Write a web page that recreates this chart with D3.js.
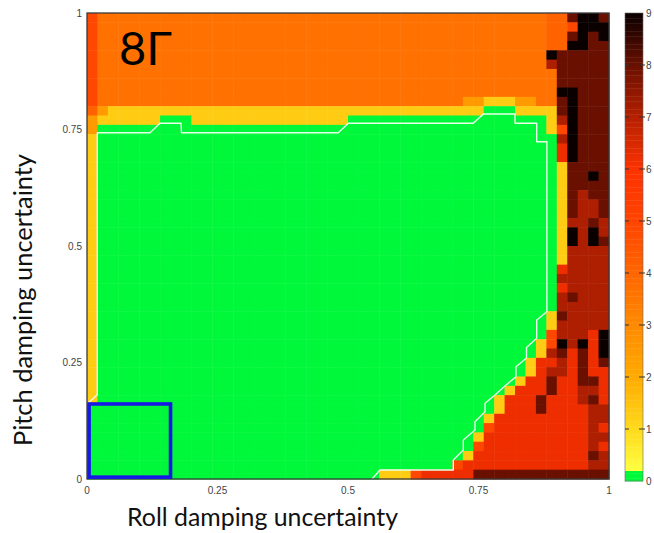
<!DOCTYPE html>
<html><head><meta charset="utf-8">
<script src="https://cdn.jsdelivr.net/npm/d3@7"></script>
<style>html,body{margin:0;padding:0;background:#fff;} svg{display:block}</style>
</head><body>
<svg id="chart" width="654" height="533"></svg>
<script>
// ---------------- DATA ----------------
const nCols = 50, nRows = 50;
// level codes used in the grid rows and the value each one stands for
const levelCodes  = ["g", "y", "a", "o", "p", "q", "r", "d", "m", "k"];
const levelValues = [0,   1.3, 2.5, 3.7, 4.1, 4.9, 6.2, 7.1, 8.0, 9.0];
// grid rows, top (pitch = 1) to bottom (pitch = 0), run-length coded: code + count
const gridRows = [
  "q o43 p2 m k2 m",
  "q o43 p2 q k3",
  "q o43 p2 m k m k",
  "q o43 p2 k2 m2",
  "q o43 k m5",
  "q o43 d m5",
  "q o44 m5",
  "q o44 m5",
  "q o44 k2 m3",
  "q o35 a2 y3 a2 o2 m k m3",
  "p a y36 g3 y4 m k m3",
  "a y6 g3 y15 g19 y d k m3",
  "a g43 y q k m3",
  "y g44 d k m3",
  "y g44 r k m3",
  "y g44 r k m3",
  "y g44 y m4",
  "y g44 y m2 k m",
  "y g44 y m4",
  "y g44 y m d m2",
  "y g44 y m d2 m",
  "y g44 y m d2 m",
  "y g44 y d2 m d",
  "y g44 y k d k d",
  "y g44 y k d k m",
  "y g44 y d4",
  "y g44 y d4",
  "y g44 r d4",
  "y g44 d5",
  "y g44 r d4",
  "y g44 d m d3",
  "y g44 d5",
  "y g43 y m d4",
  "y g43 y d5",
  "y g43 q d3 r k",
  "y g42 y q k d k r k",
  "y g42 y d m r m r k",
  "y g41 y r2 d r m r m",
  "y g41 y r d d r m r2",
  "y g40 y r2 m r2 m2 r",
  "y g39 y r3 m r2 d2 r",
  "y g38 y r3 m r r2 d m r",
  "g39 y r3 m r r3 d2",
  "g38 y r9 d2",
  "g38 q r9 d r",
  "g37 y r10 d2",
  "g37 q r10 d r",
  "g36 y r11 m d",
  "g35 q r12 d2",
  "g28 y3 q r5 m13"
];
const xTicks = [0, 0.25, 0.5, 0.75, 1];
const xTickLabels = ["0", "0.25", "0.5", "0.75", "1"];
const yTicks = [0, 0.25, 0.5, 0.75, 1];
const yTickLabels = ["0", "0.25", "0.5", "0.75", "1"];
const cbarTicks = [0, 1, 2, 3, 4, 5, 6, 7, 8, 9];
const cbarMax = 9;
const greenLimit = 0.2;
const cmapStops  = [0.2, 1, 2, 3, 4, 5, 6, 7, 8, 9];
const cmapColors = ["#ffff40", "#ffda1c", "#ffab00", "#ff8a00", "#ff6600", "#ff4400", "#fd3200", "#b52000", "#6a1000", "#0a0000"];
const greenColor = "#00f83a";
// white boundary curve (roll, pitch)
const boundaryX = [0, 0.0197, 0.0197, 0.1207, 0.1398, 0.1801, 0.181, 0.4814, 0.5006, 0.740, 0.7592, 0.8199, 0.8199, 0.8615, 0.8615, 0.881, 0.881, 0.8615, 0.8615, 0.842, 0.842, 0.8218, 0.8218, 0.8017, 0.7816, 0.7625, 0.7625, 0.7433, 0.7433, 0.7209, 0.7209, 0.7017, 0.7017, 0.5613, 0.546];
const boundaryY = [0.161, 0.181, 0.743, 0.743, 0.7633, 0.7633, 0.743, 0.743, 0.7633, 0.7633, 0.7833, 0.7833, 0.7633, 0.7633, 0.7238, 0.7238, 0.359, 0.3412, 0.3019, 0.2822, 0.2597, 0.241, 0.2195, 0.2006, 0.1803, 0.1624, 0.1444, 0.123, 0.1052, 0.0837, 0.0622, 0.0408, 0.0193, 0.0193, 0];
// blue box
const boxX = [0.004, 0.16];
const boxY = [0.004, 0.161];
const annotationText = "8Γ";
const xLabel = "Roll damping uncertainty";
const yLabel = "Pitch damping uncertainty";

// ---------------- CHART ----------------
const svg = d3.select("#chart");
const plot = {left: 87, right: 609, top: 13, bottom: 479};
const x = d3.scaleLinear().domain([0, 1]).range([plot.left, plot.right]);
const y = d3.scaleLinear().domain([0, 1]).range([plot.bottom, plot.top]);

const cmap = d3.scaleLinear().domain(cmapStops).range(cmapColors).clamp(true);
function colorOf(v) { return v < greenLimit ? greenColor : cmap(v); }

const codeValue = new Map(levelCodes.map((c, i) => [c, levelValues[i]]));
function decodeRow(s) {
  const out = [];
  s.split(" ").forEach(tok => {
    const code = tok[0];
    const n = tok.length > 1 ? +tok.slice(1) : 1;
    for (let i = 0; i < n; i++) out.push(codeValue.get(code));
  });
  return out;
}
const cells = [];
gridRows.forEach((s, r) => {
  decodeRow(s).forEach((v, c) => {
    cells.push({
      x0: c / nCols, x1: (c + 1) / nCols,
      y1: 1 - r / nRows, y0: 1 - (r + 1) / nRows, v
    });
  });
});

svg.append("g").selectAll("rect").data(cells).join("rect")
  .attr("x", d => x(d.x0))
  .attr("y", d => y(d.y1))
  .attr("width", d => x(d.x1) - x(d.x0) + 0.5)
  .attr("height", d => y(d.y0) - y(d.y1) + 0.5)
  .attr("fill", d => colorOf(d.v));

// white boundary line
const bpts = boundaryX.map((bx, i) => [bx, boundaryY[i]]);
svg.append("path")
  .attr("d", d3.line().x(d => x(d[0])).y(d => y(d[1]))(bpts))
  .attr("fill", "none")
  .attr("stroke", "#eaffea")
  .attr("stroke-width", 1.4)
  .attr("stroke-linejoin", "round");

// frame
svg.append("rect")
  .attr("x", x(0)).attr("y", y(1))
  .attr("width", x(1) - x(0)).attr("height", y(0) - y(1))
  .attr("fill", "none").attr("stroke", "#3a3a3a").attr("stroke-width", 1.3);

// blue box
svg.append("rect")
  .attr("x", x(boxX[0])).attr("y", y(boxY[1]))
  .attr("width", x(boxX[1]) - x(boxX[0]))
  .attr("height", y(boxY[0]) - y(boxY[1]))
  .attr("fill", "none").attr("stroke", "#1818e6").attr("stroke-width", 3.6);

// tick labels
const tickFont = "'Liberation Sans', Arial, sans-serif";
svg.append("g").selectAll("text").data(xTicks).join("text")
  .attr("x", d => x(d)).attr("y", 494)
  .attr("text-anchor", "middle")
  .attr("font-family", tickFont).attr("font-size", 10).attr("fill", "#444")
  .text((d, i) => xTickLabels[i]);
svg.append("g").selectAll("text").data(yTicks).join("text")
  .attr("x", 82).attr("y", d => y(d) + 3.5)
  .attr("text-anchor", "end")
  .attr("font-family", tickFont).attr("font-size", 10).attr("fill", "#444")
  .text((d, i) => yTickLabels[i]);

// colour bar
const cb = {left: 625, right: 643, top: 13, bottom: 481};
const yc = d3.scaleLinear().domain([0, cbarMax]).range([cb.bottom, cb.top]);
const steps = d3.range(0, cbarMax, 0.05);
svg.append("g").selectAll("rect").data(steps).join("rect")
  .attr("x", cb.left).attr("width", cb.right - cb.left)
  .attr("y", d => yc(d + 0.05)).attr("height", d => yc(d) - yc(d + 0.05) + 0.4)
  .attr("fill", d => colorOf(d + 0.025));
svg.append("rect")
  .attr("x", cb.left).attr("y", cb.top).attr("width", cb.right - cb.left).attr("height", cb.bottom - cb.top)
  .attr("fill", "none").attr("stroke", "#666").attr("stroke-width", 0.6);
const cbt = svg.append("g");
cbt.selectAll("line.l").data(cbarTicks.slice(1, -1)).join("line").attr("class", "l")
  .attr("x1", cb.left).attr("x2", cb.left + 4).attr("y1", d => yc(d)).attr("y2", d => yc(d))
  .attr("stroke", "#333").attr("stroke-width", 1);
cbt.selectAll("line.r").data(cbarTicks.slice(1, -1)).join("line").attr("class", "r")
  .attr("x1", cb.right - 4).attr("x2", cb.right + 2).attr("y1", d => yc(d)).attr("y2", d => yc(d))
  .attr("stroke", "#333").attr("stroke-width", 1);
cbt.selectAll("text").data(cbarTicks).join("text")
  .attr("x", 646).attr("y", d => yc(d) + 3.5)
  .attr("font-family", tickFont).attr("font-size", 10).attr("fill", "#444")
  .text(d => d);

// axis titles (fitted to the reference widths)
const titleFont = "Lato, 'Open Sans', sans-serif";
function fit(sel, target) {
  const w = sel.node().getComputedTextLength();
  const fs = +sel.attr("font-size");
  sel.attr("font-size", fs * target / w);
}
const xl = svg.append("text")
  .attr("x", 262.5).attr("y", 526)
  .attr("text-anchor", "middle")
  .attr("font-family", titleFont).attr("font-size", 22).attr("fill", "#111")
  .text(xLabel);
fit(xl, 271);
const yl = svg.append("text")
  .attr("transform", "translate(32,300) rotate(-90)")
  .attr("text-anchor", "middle")
  .attr("font-family", titleFont).attr("font-size", 22).attr("fill", "#111")
  .text(yLabel);
fit(yl, 292);

// annotation
const an = svg.append("text")
  .attr("x", 119).attr("y", 65)
  .attr("font-family", titleFont).attr("font-size", 45).attr("fill", "#000")
  .text(annotationText);
fit(an, 53);
</script>
</body></html>
